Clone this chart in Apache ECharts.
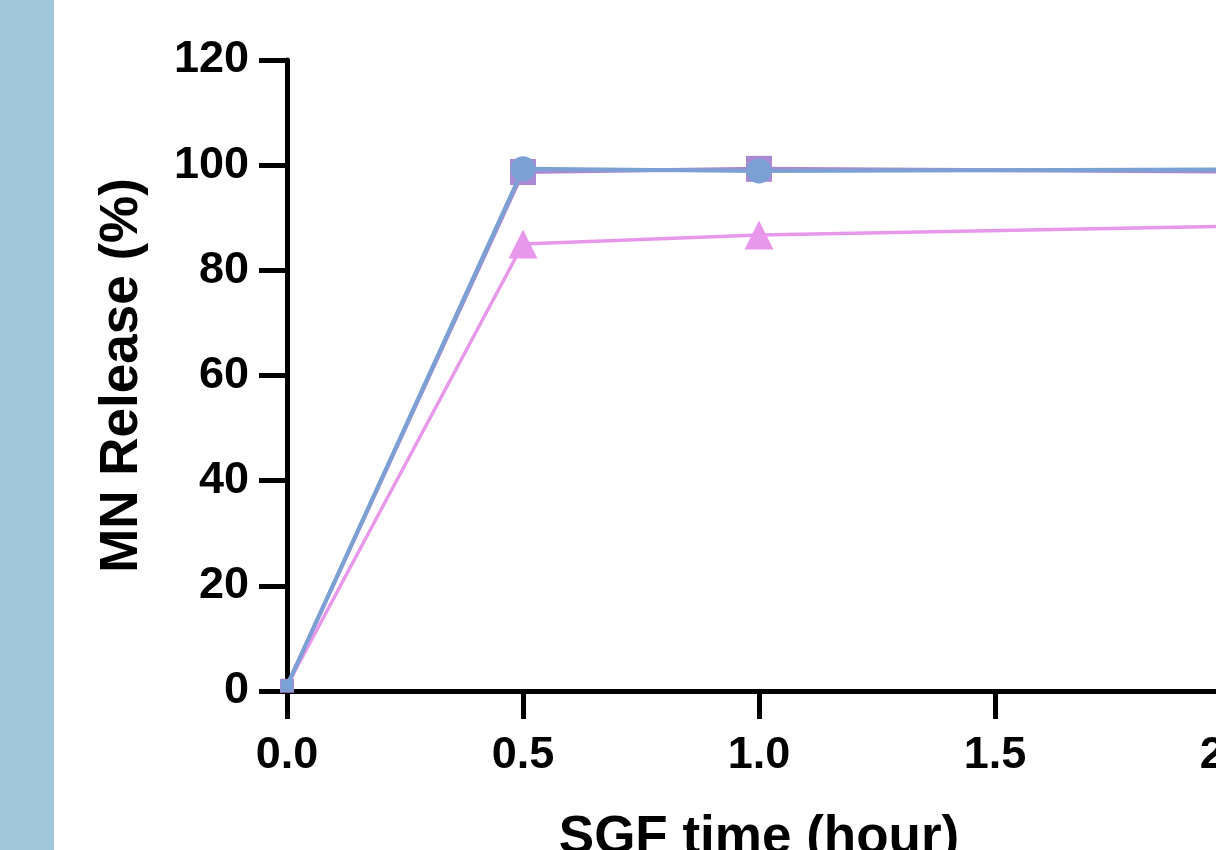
<!DOCTYPE html>
<html>
<head>
<meta charset="utf-8">
<script src="https://cdn.jsdelivr.net/npm/echarts@6/dist/echarts.min.js"></script>
<style>
html,body{margin:0;padding:0;background:#fff;}
#chart{width:1216px;height:850px;}
</style>
</head>
<body>
<div id="chart"></div>
<script>
// ---- data ----
const times = [0, 0.5, 1.0, 2.0];
const squareSeries = [1, 98.7, 99.3, 98.8];   // purple squares
const circleSeries = [1, 99.3, 98.9, 99.2];   // blue circles
const triangleSeries = [1, 85.0, 86.7, 88.4]; // pink triangles
const xTicks = [0, 0.5, 1.0, 1.5, 2.0];
const yTicks = [0, 20, 40, 60, 80, 100, 120];
const xTitle = 'SGF time (hour)';
const yTitle = 'MN Release (%)';

const FONT = '"Liberation Sans", Arial, Helvetica, sans-serif';

function build(vals, firstSize) {
  return vals.map((v, i) => {
    const d = { value: [times[i], v] };
    if (i === 0) { d.symbol = 'rect'; d.symbolSize = firstSize; }
    return d;
  });
}

const chart = echarts.init(document.getElementById('chart'));
chart.setOption({
  animation: false,
  backgroundColor: '#ffffff',
  graphic: [{
    type: 'rect', left: 0, top: 0, z: -1,
    shape: { width: 54, height: 850 },
    style: { fill: '#A0C6D9' }
  }],
  grid: { left: 287, top: 60, width: 944, height: 631, containLabel: false, outerBoundsMode: 'none' },
  xAxis: {
    type: 'value', min: xTicks[0], max: xTicks[xTicks.length - 1], interval: 0.5,
    name: xTitle, nameLocation: 'middle', nameGap: 121,
    nameTextStyle: { fontFamily: FONT, fontWeight: 'bold', fontSize: 53, color: '#000' },
    axisLine: { show: true, lineStyle: { color: '#000', width: 5 } },
    axisTick: { show: true, inside: false, length: 28, lineStyle: { color: '#000', width: 5 } },
    axisLabel: { fontFamily: FONT, fontWeight: 'bold', fontSize: 45, color: '#000', margin: 42,
                 formatter: v => v.toFixed(1) },
    splitLine: { show: false }
  },
  yAxis: {
    type: 'value', min: yTicks[0], max: yTicks[yTicks.length - 1], interval: 20,
    name: yTitle, nameLocation: 'middle', nameGap: 138,
    nameTextStyle: { fontFamily: FONT, fontWeight: 'bold', fontSize: 53, color: '#000' },
    axisLine: { show: true, lineStyle: { color: '#000', width: 5 } },
    axisTick: { show: true, inside: false, length: 28, lineStyle: { color: '#000', width: 5 } },
    axisLabel: { fontFamily: FONT, fontWeight: 'bold', fontSize: 45, color: '#000', margin: 38 },
    splitLine: { show: false }
  },
  series: [
    {
      type: 'line', name: 'triangle', data: build(triangleSeries, 12),
      symbol: 'triangle', symbolSize: 29, clip: false,
      lineStyle: { color: '#E898EA', width: 3.5 },
      itemStyle: { color: '#E898EA' }, z: 2
    },
    {
      type: 'line', name: 'square', data: build(squareSeries, 14),
      symbol: 'rect', symbolSize: 26, clip: false,
      lineStyle: { color: '#A98AD2', width: 4 },
      itemStyle: { color: '#A98AD2' }, z: 3
    },
    {
      type: 'line', name: 'circle', data: build(circleSeries, 12),
      symbol: 'circle', symbolSize: 25, clip: false,
      lineStyle: { color: '#7BA0D4', width: 4 },
      itemStyle: { color: '#7BA0D4' }, z: 4
    }
  ]
});
</script>
</body>
</html>
